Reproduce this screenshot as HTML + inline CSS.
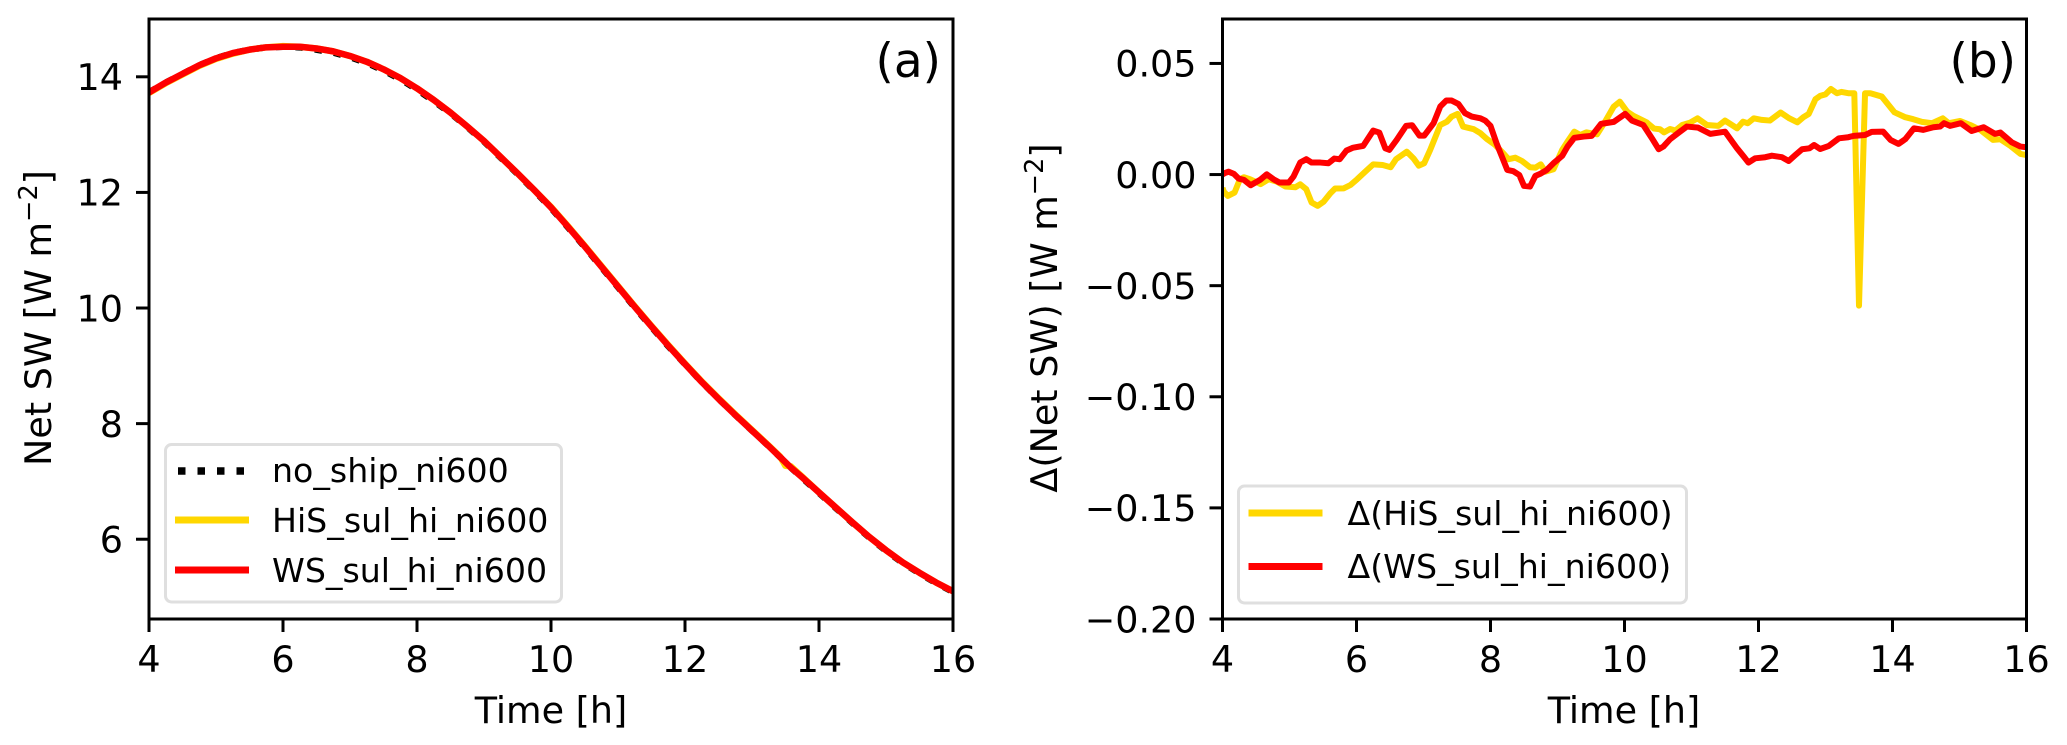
<!DOCTYPE html>
<html lang="en">
<head>
<meta charset="utf-8">
<title>Net SW time series</title>
<style>
html,body{margin:0;padding:0;background:#fff;}
svg{display:block;}
text{font-family:"DejaVu Sans","Liberation Sans",sans-serif;fill:#000;}
</style>
</head>
<body>
<svg id="figure" xmlns="http://www.w3.org/2000/svg" width="2067" height="745" viewBox="0 0 2067 745">
  <rect x="0" y="0" width="2067" height="745" fill="#fff"/>
  <defs>
    <clipPath id="clip-a"><rect x="149" y="19" width="804" height="600"/></clipPath>
    <clipPath id="clip-b"><rect x="1222.5" y="19" width="804" height="600"/></clipPath>
  </defs>
  <g id="panel-a">
    <g id="marks-a" clip-path="url(#clip-a)"></g>
    <g id="axes-a"></g>
    <text transform="translate(51,318) rotate(-90)" text-anchor="middle" font-size="36.5">Net SW [W m<tspan font-size="25.5" dy="-14">−2</tspan><tspan dy="14">]</tspan></text>
    <text x="551" y="723" text-anchor="middle" font-size="36.5">Time [h]</text>
    <text x="941" y="77" text-anchor="end" font-size="47">(a)</text>
    <g>
      <rect x="165.5" y="444.5" width="396" height="157.5" rx="6" fill="#fff" stroke="#dfdfdf" stroke-width="3"/>
      <line x1="178" y1="471" x2="248" y2="471" stroke="#000" stroke-width="7.5" stroke-dasharray="7.5 12"/>
      <text x="272" y="482" font-size="33.2">no_ship_ni600</text>
      <line x1="175" y1="520" x2="249" y2="520" stroke="#ffd700" stroke-width="7"/>
      <text x="272" y="532" font-size="33.2">HiS_sul_hi_ni600</text>
      <line x1="175" y1="570" x2="249" y2="570" stroke="#ff0000" stroke-width="7"/>
      <text x="272" y="582" font-size="33.2">WS_sul_hi_ni600</text>
    </g>
  </g>
  <g id="panel-b">
    <g id="marks-b" clip-path="url(#clip-b)"></g>
    <g id="axes-b"></g>
    <text transform="translate(1057,318) rotate(-90)" text-anchor="middle" font-size="36.5">Δ(Net SW) [W m<tspan font-size="25.5" dy="-14">−2</tspan><tspan dy="14">]</tspan></text>
    <text x="1624" y="723" text-anchor="middle" font-size="36.5">Time [h]</text>
    <text x="2016" y="77" text-anchor="end" font-size="47">(b)</text>
    <g>
      <rect x="1238.5" y="486" width="448" height="117" rx="6" fill="#fff" stroke="#dfdfdf" stroke-width="3"/>
      <line x1="1248.5" y1="513" x2="1322.5" y2="513" stroke="#ffd700" stroke-width="7"/>
      <text x="1347.5" y="525" font-size="33.2">Δ(HiS_sul_hi_ni600)</text>
      <line x1="1248.5" y1="566.5" x2="1322.5" y2="566.5" stroke="#ff0000" stroke-width="7"/>
      <text x="1347.5" y="578" font-size="33.2">Δ(WS_sul_hi_ni600)</text>
    </g>
  </g>
</svg>
<script>
// ---- Shared axis data ----
const xTickValues = [4, 6, 8, 10, 12, 14, 16];
const xTickLabels = ["4", "6", "8", "10", "12", "14", "16"];

// ---- Panel (a) data ----
const aYTickValues = [6, 8, 10, 12, 14];
const aYTickLabels = ["6", "8", "10", "12", "14"];
const aTimes = [4,4.25,4.5,4.75,5,5.25,5.5,5.75,6,6.25,6.5,6.75,7,7.25,7.5,7.75,8,8.25,8.5,8.75,9,9.25,9.5,9.75,10,10.25,10.5,10.75,11,11.25,11.5,11.75,12,12.25,12.5,12.75,13,13.25,13.42,13.5,13.58,13.75,14,14.25,14.5,14.75,15,15.25,15.5,15.75,16];
const noShipValues = [13.73,13.90,14.05,14.20,14.32,14.41,14.47,14.51,14.52,14.51,14.47,14.42,14.34,14.24,14.11,13.96,13.78,13.58,13.37,13.13,12.88,12.60,12.32,12.03,11.73,11.40,11.06,10.71,10.36,10.01,9.67,9.34,9.03,8.72,8.43,8.15,7.88,7.61,7.42,7.33,7.24,7.06,6.80,6.54,6.28,6.03,5.80,5.59,5.41,5.24,5.09];
const hisValues = [13.72,13.89,14.04,14.19,14.31,14.40,14.47,14.51,14.53,14.52,14.49,14.44,14.36,14.26,14.13,13.98,13.80,13.60,13.38,13.14,12.89,12.61,12.33,12.04,11.75,11.42,11.08,10.73,10.38,10.03,9.69,9.36,9.04,8.73,8.44,8.16,7.89,7.62,7.43,7.27,7.26,7.08,6.81,6.55,6.29,6.04,5.81,5.60,5.42,5.25,5.10];
const wsValues = [13.73,13.90,14.05,14.20,14.32,14.41,14.47,14.51,14.52,14.52,14.49,14.44,14.36,14.26,14.13,13.98,13.80,13.60,13.38,13.14,12.89,12.61,12.33,12.04,11.74,11.41,11.07,10.72,10.37,10.02,9.68,9.35,9.03,8.72,8.43,8.15,7.88,7.61,7.42,7.33,7.24,7.07,6.81,6.55,6.29,6.04,5.81,5.60,5.42,5.25,5.10];

// ---- Panel (b) data ----
const bYTickValues = [-0.20, -0.15, -0.10, -0.05, 0.00, 0.05];
const bYTickLabels = ["−0.20", "−0.15", "−0.10", "−0.05", "0.00", "0.05"];
const deltaHisTimes = [4,4.02,4.08,4.18,4.26,4.32,4.41,4.57,4.69,4.81,4.94,5.09,5.16,5.25,5.33,5.42,5.51,5.61,5.68,5.81,5.91,6.01,6.13,6.25,6.39,6.51,6.59,6.75,6.85,6.93,7.01,7.10,7.25,7.35,7.42,7.51,7.59,7.75,7.85,7.95,8.07,8.19,8.27,8.37,8.47,8.59,8.67,8.75,8.82,8.94,9.07,9.16,9.25,9.34,9.43,9.59,9.71,9.84,9.93,10.04,10.13,10.33,10.44,10.53,10.59,10.68,10.76,10.86,10.98,11.09,11.23,11.40,11.50,11.68,11.77,11.84,11.93,12.05,12.17,12.33,12.46,12.58,12.67,12.75,12.85,12.92,13.00,13.08,13.17,13.24,13.34,13.43,13.50,13.59,13.67,13.84,14.03,14.19,14.31,14.44,14.59,14.75,14.84,15.01,15.16,15.31,15.50,15.61,15.76,15.91,16];
const deltaHisValues = [-0.0060,-0.0077,-0.0096,-0.0081,-0.0021,-0.0012,-0.0021,-0.0043,-0.0021,-0.0032,-0.0054,-0.0057,-0.0044,-0.0066,-0.0126,-0.0141,-0.0122,-0.0084,-0.0063,-0.0062,-0.0047,-0.0021,0.0013,0.0046,0.0043,0.0033,0.0069,0.0103,0.0073,0.0040,0.0051,0.0111,0.0223,0.0238,0.0261,0.0273,0.0216,0.0204,0.0186,0.0159,0.0133,0.0096,0.0069,0.0076,0.0061,0.0033,0.0031,0.0046,0.0013,0.0024,0.0111,0.0153,0.0193,0.0178,0.0190,0.0181,0.0238,0.0306,0.0328,0.0283,0.0265,0.0235,0.0207,0.0204,0.0190,0.0205,0.0198,0.0223,0.0234,0.0253,0.0223,0.0219,0.0243,0.0208,0.0238,0.0231,0.0253,0.0246,0.0243,0.0279,0.0253,0.0235,0.0258,0.0273,0.0339,0.0354,0.0361,0.0385,0.0366,0.0372,0.0366,0.0366,-0.0590,0.0366,0.0366,0.0351,0.0280,0.0258,0.0249,0.0237,0.0231,0.0253,0.0231,0.0241,0.0223,0.0201,0.0156,0.0159,0.0129,0.0093,0.0088];
const deltaWsTimes = [4,4.03,4.09,4.17,4.24,4.32,4.42,4.56,4.66,4.76,4.85,4.99,5.06,5.16,5.25,5.33,5.46,5.58,5.67,5.75,5.85,5.95,6.10,6.25,6.34,6.43,6.49,6.60,6.74,6.83,6.94,7.01,7.15,7.25,7.34,7.42,7.52,7.62,7.72,7.85,7.92,8.00,8.09,8.17,8.25,8.34,8.43,8.50,8.59,8.67,8.74,8.84,8.94,9.07,9.15,9.25,9.39,9.51,9.65,9.84,10.01,10.11,10.28,10.41,10.51,10.58,10.68,10.81,10.93,11.10,11.28,11.50,11.68,11.78,11.85,11.95,12.10,12.20,12.35,12.45,12.55,12.65,12.76,12.83,12.92,13.05,13.20,13.34,13.42,13.59,13.69,13.86,13.97,14.09,14.19,14.32,14.46,14.61,14.71,14.77,14.86,15.02,15.18,15.36,15.53,15.61,15.78,15.91,16];
const deltaWsValues = [0.0000,0.0006,0.0013,0.0003,-0.0018,-0.0024,-0.0048,-0.0024,0.0001,-0.0021,-0.0036,-0.0036,-0.0009,0.0054,0.0069,0.0054,0.0054,0.0051,0.0072,0.0069,0.0108,0.0121,0.0129,0.0198,0.0189,0.0118,0.0111,0.0156,0.0219,0.0222,0.0175,0.0175,0.0231,0.0306,0.0333,0.0333,0.0318,0.0276,0.0261,0.0253,0.0243,0.0219,0.0141,0.0081,0.0021,0.0015,-0.0002,-0.0051,-0.0054,-0.0006,0.0003,0.0021,0.0051,0.0084,0.0126,0.0165,0.0171,0.0174,0.0228,0.0237,0.0273,0.0243,0.0223,0.0163,0.0114,0.0126,0.0159,0.0189,0.0216,0.0211,0.0183,0.0193,0.0118,0.0081,0.0054,0.0073,0.0078,0.0085,0.0078,0.0061,0.0088,0.0114,0.0118,0.0133,0.0115,0.0129,0.0163,0.0168,0.0174,0.0178,0.0192,0.0193,0.0156,0.0138,0.0159,0.0208,0.0201,0.0213,0.0216,0.0231,0.0219,0.0231,0.0196,0.0213,0.0183,0.0189,0.0145,0.0126,0.0123];

// ---- Axis functions ----
const SVG_NS = "http://www.w3.org/2000/svg";
const plotTop = 19, plotBottom = 619, plotWidth = 804;
const xDomain = [4, 16];
const aYDomain = [4.62, 15];
const bYDomain = [-0.2, 0.07];

function makeX(left) {
  return function (t) { return left + (t - xDomain[0]) / (xDomain[1] - xDomain[0]) * plotWidth; };
}
function makeY(domain) {
  return function (v) { return plotBottom - (v - domain[0]) / (domain[1] - domain[0]) * (plotBottom - plotTop); };
}
function svgEl(tag, attrs) {
  const el = document.createElementNS(SVG_NS, tag);
  for (const k in attrs) el.setAttribute(k, attrs[k]);
  return el;
}
function drawSeries(parent, name, times, values, x, y, stroke, width, dash) {
  const pts = times.map(function (t, i) { return x(t).toFixed(2) + "," + y(values[i]).toFixed(2); }).join(" ");
  const line = svgEl("polyline", { points: pts, fill: "none", stroke: stroke, "stroke-width": width, "stroke-linejoin": "round" });
  if (dash) line.setAttribute("stroke-dasharray", dash);
  
  
  parent.appendChild(line);
}
function drawAxes(parent, prefix, left, x, y, yVals, yLabs) {
  const right = left + plotWidth;
  xTickValues.forEach(function (v, i) {
    const tick = svgEl("line", { x1: x(v), x2: x(v), y1: plotBottom, y2: plotBottom + 13, stroke: "#000", "stroke-width": 3 });
    
    
    parent.appendChild(tick);
    const lab = svgEl("text", { x: x(v), y: 672, "text-anchor": "middle", "font-size": 36.5 });
    lab.textContent = xTickLabels[i];
    
    
    parent.appendChild(lab);
  });
  yVals.forEach(function (v, i) {
    const tick = svgEl("line", { x1: left - 13, x2: left, y1: y(v), y2: y(v), stroke: "#000", "stroke-width": 3 });
    
    
    parent.appendChild(tick);
    const lab = svgEl("text", { x: left - 26, y: y(v) + 13.3, "text-anchor": "end", "font-size": 36.5 });
    lab.textContent = yLabs[i];
    
    
    parent.appendChild(lab);
  });
  const frame = svgEl("rect", { x: left, y: plotTop, width: right - left, height: plotBottom - plotTop, fill: "none", stroke: "#000", "stroke-width": 3 });
  
  
  parent.appendChild(frame);
}

// ---- Panel (a) ----
const xA = makeX(149);
const yA = makeY(aYDomain);
const marksA = document.getElementById("marks-a");
drawSeries(marksA, "no-ship-line", aTimes, noShipValues, xA, yA, "#000", 6.5, "7.5 12");
drawSeries(marksA, "his-line", aTimes, hisValues, xA, yA, "#ffd700", 6.5);
drawSeries(marksA, "ws-line", aTimes, wsValues, xA, yA, "#ff0000", 6.5);
drawAxes(document.getElementById("axes-a"), "panel-a", 149, xA, yA, aYTickValues, aYTickLabels);

// ---- Panel (b) ----
const xB = makeX(1222.5);
const yB = makeY(bYDomain);
const marksB = document.getElementById("marks-b");
drawSeries(marksB, "delta-his-line", deltaHisTimes, deltaHisValues, xB, yB, "#ffd700", 6);
drawSeries(marksB, "delta-ws-line", deltaWsTimes, deltaWsValues, xB, yB, "#ff0000", 6);
drawAxes(document.getElementById("axes-b"), "panel-b", 1222.5, xB, yB, bYTickValues, bYTickLabels);
</script>
</body>
</html>
